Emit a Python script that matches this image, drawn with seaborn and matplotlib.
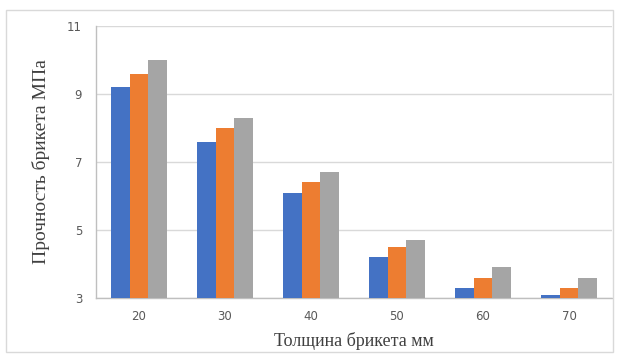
import matplotlib
matplotlib.use("Agg")
import matplotlib.pyplot as plt
import seaborn as sns
import pandas as pd
from matplotlib.patches import Rectangle

thickness = ["20", "30", "40", "50", "60", "70"]
series_a = [9.2, 7.6, 6.1, 4.2, 3.3, 3.1]
series_b = [9.6, 8.0, 6.4, 4.5, 3.6, 3.3]
series_c = [10.0, 8.3, 6.7, 4.7, 3.9, 3.6]
series_names = ["1", "2", "3"]
colors = ["#4472C4", "#ED7D31", "#A5A5A5"]

df = pd.DataFrame({
    "thickness": thickness * 3,
    "value": series_a + series_b + series_c,
    "series": [series_names[0]] * 6 + [series_names[1]] * 6 + [series_names[2]] * 6,
})

sns.set_theme(style="white")
plt.rcParams["font.family"] = ["DejaVu Sans"]

fig = plt.figure(figsize=(6.17, 3.58), dpi=100)
ax = fig.add_axes([96 / 617, 1 - 298 / 358, (612 - 96) / 617, (298 - 26) / 358])

# chart border
fig.patches.append(Rectangle((6 / 617, 1 - 352 / 358), 607 / 617, 342 / 358,
                             transform=fig.transFigure, fill=False,
                             edgecolor="#D9D9D9", linewidth=1))

sns.barplot(data=df, x="thickness", y="value", hue="series", palette=colors,
            width=0.66, gap=0, saturation=1, ax=ax, legend=False, zorder=3)
for p in ax.patches:
    p.set_linewidth(0)

ax.set_ylim(3, 11)
ax.set_yticks([3, 5, 7, 9, 11])
ax.yaxis.grid(True, color="#D9D9D9", linewidth=1, zorder=0)
ax.set_axisbelow(True)
for side in ["top", "right"]:
    ax.spines[side].set_visible(False)
ax.spines["left"].set_color("#BFBFBF")
ax.spines["bottom"].set_color("#BFBFBF")
ax.spines["left"].set_linewidth(1)
ax.spines["bottom"].set_linewidth(1)
ax.tick_params(axis="x", length=0, labelsize=8.5, colors="#595959", pad=9)
ax.tick_params(axis="y", length=3, width=1, color="#D9D9D9", labelsize=8.5,
               labelcolor="#595959", pad=7)

ax.set_xlabel("Толщина брикета мм", family="Liberation Serif", fontsize=13,
              color="#404040", labelpad=6)
ax.set_ylabel("Прочность брикета МПа", family="Liberation Serif", fontsize=14,
              color="#404040", labelpad=12)

fig.savefig("out.png", dpi=100)
